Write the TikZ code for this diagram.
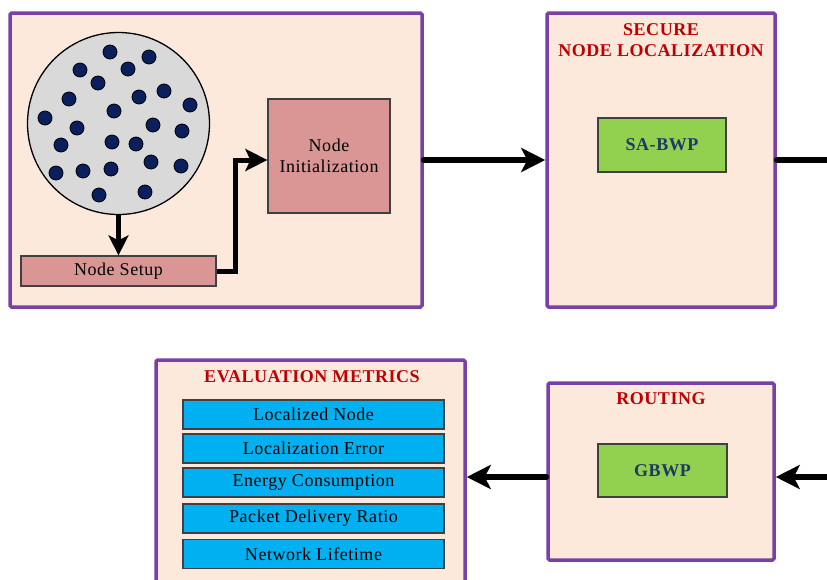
\documentclass[tikz,border=0pt]{standalone}
\usepackage{fontspec}
\setmainfont{Liberation Serif}[LetterSpace=3]
\usetikzlibrary{arrows.meta}
\definecolor{peach}{HTML}{FCE9DC}
\definecolor{purp}{HTML}{7B3FA8}
\definecolor{rose}{HTML}{D99694}
\definecolor{lgreen}{HTML}{92D050}
\definecolor{sky}{HTML}{00B0F0}
\definecolor{tred}{HTML}{C00000}
\definecolor{navy}{HTML}{1F3864}
\definecolor{dotc}{HTML}{0A1F5C}
\definecolor{greyc}{HTML}{D9D9D9}
\tikzset{
  stage/.style={draw=purp, line width=3.5pt, fill=peach, rounded corners=1.5pt, minimum width=#1},
  inner/.style={draw=black!75, line width=1.2pt, font=\fontsize{18}{21.6}\selectfont},
  title/.style={text=tred, font=\bfseries\fontsize{18}{21.6}\selectfont, align=center, inner sep=0pt},
  bigarrow/.style={line width=6pt, line cap=round, -{Stealth[length=24pt,width=24pt,inset=6pt]}},
  thinarrow/.style={line width=4.5pt, -{Stealth[length=20pt,width=20pt,inset=5pt]}},
  dot/.style={circle, fill=dotc, draw=black, line width=0.8pt, minimum size=14pt, inner sep=0pt},
}
\begin{document}
\begin{tikzpicture}[x=1pt,y=-1pt]
\clip (0,0) rectangle (827,579);
\fill[white] (0,0) rectangle (827,579);
% stage boxes
\node[stage=412pt, minimum height=294pt] (b1) at (216,160) {};
\node[stage=228pt, minimum height=294pt] (b2) at (661,160) {};
\node[stage=226pt, minimum height=177pt] (b3) at (661,471.5) {};
\node[stage=309pt, minimum height=240pt] (b4) at (310.5,480) {};
% box 1 content
\node[circle, draw=black, line width=1.3pt, fill=greyc, minimum size=182pt, inner sep=0pt] (net) at (118.5,123.5) {};
\foreach \x/\y [count=\i] in {110/52,149/57,80/70,128/69,98/83,69/99,139/97,164/91,190/105,45/118,114/111,77/128,153/125,182/131,61/145,112/142,136/144,151/162,181/166,56/173,83/171,111/169,99/195,145/192}
  \node[dot] (d\i) at (\x,\y) {};
\node[inner, fill=rose, minimum width=195pt, minimum height=30pt, inner sep=0pt] (setup) at (118.5,271) {Node Setup};
\node[inner, fill=rose, minimum width=122pt, minimum height=114pt, align=center, inner sep=0pt] (init) at (329,156) {Node\\Initialization};
\draw[thinarrow] (net.south) -- (setup.north);
\draw[line width=5pt, -{Stealth[length=22pt,width=22pt,inset=5pt]}] (setup.east) -- ++(19,0) |- ([yshift=-4pt]init.west);
% box 2
\node[title] (t2) at (661,40) {SECURE\\NODE LOCALIZATION};
\node[inner, fill=lgreen, minimum width=128pt, minimum height=54pt, text=navy, font=\bfseries\fontsize{18}{21.6}\selectfont] (sabwp) at (662,145) {SA-BWP};
% box 3
\node[title] (t3) at (661,399) {ROUTING};
\node[inner, fill=lgreen, minimum width=129pt, minimum height=53pt, text=navy, font=\bfseries\fontsize{18}{21.6}\selectfont] (gbwp) at (662.5,470.5) {GBWP};
% box 4
\node[title] (t4) at (312,377) {EVALUATION METRICS};
\foreach \y/\t [count=\i] in {414.5/Localized Node,448.5/Localization Error,482.5/Energy Consumption,518.5/Packet Delivery Ratio,554/Network Lifetime}
  \node[inner, fill=sky, minimum width=261pt, minimum height=29pt, inner sep=0pt] (m\i) at (313.5,\y) {\t};
% connectors
\coordinate (outR) at (840,160);
\coordinate (inR) at (840,477);
\draw[bigarrow] (b1.east) -- (b2.west);
\draw[line width=6pt, line cap=round] (b2.east) -- (outR);
\draw[line width=6pt, -{Stealth[length=24pt,width=24pt,inset=6pt]}] (inR) -- (b3.east |- inR);
\draw[bigarrow] (b3.west |- inR) -- (b4.east |- inR);
\end{tikzpicture}
\end{document}
